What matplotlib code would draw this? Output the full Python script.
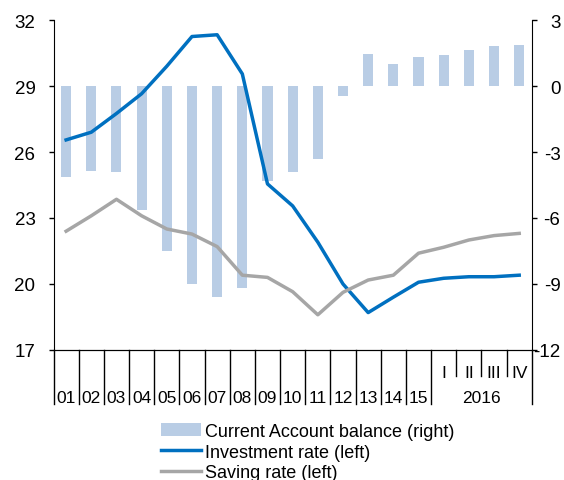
import numpy as np
import matplotlib.pyplot as plt
from matplotlib.patches import Patch
from matplotlib.lines import Line2D

plt.rcParams['font.family'] = ['Liberation Sans', 'DejaVu Sans']
plt.rcParams['axes.unicode_minus'] = False

years = ['01', '02', '03', '04', '05', '06', '07', '08', '09', '10',
         '11', '12', '13', '14', '15']
quarters = ['I', 'II', 'III', 'IV']
year_2016 = '2016'

current_account = [-4.15, -3.85, -3.9, -5.65, -7.5, -9.0, -9.6, -9.2, -4.3, -3.9,
                   -3.3, -0.45, 1.45, 1.0, 1.3, 1.4, 1.65, 1.8, 1.87]
investment = [26.55, 26.9, 27.75, 28.65, 29.9, 31.25, 31.33, 29.55, 24.55, 23.55,
              21.9, 20.0, 18.7, 19.4, 20.08, 20.26, 20.33, 20.33, 20.4]
saving = [22.4, 23.1, 23.85, 23.1, 22.5, 22.27, 21.7, 20.4, 20.3, 19.65,
          18.6, 19.62, 20.18, 20.4, 21.4, 21.67, 22.0, 22.2, 22.3]

bar_color = '#b9cde5'
inv_color = '#0070c0'
sav_color = '#a6a6a6'


def draw():
    fig = plt.figure(figsize=(5.64, 4.81), dpi=100)
    ax = fig.add_axes([0.0949, 0.2703, 0.848, 0.686])
    ax2 = ax.twinx()

    n = len(current_account)
    x = np.arange(n)

    ax2.bar(x, current_account, width=0.4, color=bar_color)
    ax.plot(x, investment, color=inv_color, linewidth=2.5)
    ax.plot(x, saving, color=sav_color, linewidth=2.5)

    ax.set_zorder(ax2.get_zorder() + 1)
    ax.patch.set_visible(False)

    ax.set_xlim(-0.5, n - 0.5)
    ax.set_ylim(17, 32)
    ax.set_yticks([17, 20, 23, 26, 29, 32])
    ax2.set_ylim(-12, 3)
    ax2.set_yticks([-12, -9, -6, -3, 0, 3])

    for a in (ax, ax2):
        a.spines['top'].set_visible(False)
    ax.tick_params(axis='y', labelsize=13.5, length=3.6, width=1, direction='out', pad=9.4)
    ax2.tick_params(axis='y', labelsize=13.5, length=3.6, width=1, direction='out', pad=17)
    for lab in ax2.get_yticklabels():
        lab.set_horizontalalignment('right')
    ax.tick_params(axis='x', bottom=False, labelbottom=False)
    ax2.spines['left'].set_visible(False)
    ax.spines['right'].set_visible(False)

    # category separators below the axis
    tr = ax.get_xaxis_transform()
    for b in list(np.arange(-0.5, 15.0, 1.0)) + [n - 0.5]:
        ax.plot([b, b], [0, -0.164], color='black', linewidth=1, transform=tr, clip_on=False)
    for b in [15.5, 16.5, 17.5]:
        ax.plot([b, b], [0, -0.079], color='black', linewidth=1, transform=tr, clip_on=False)

    for i, lab in enumerate(years):
        ax.annotate(lab, (i, 0), xycoords=tr, xytext=(0, -34.3), textcoords='offset points',
                    ha='center', va='center', fontsize=12.5)
    for j, lab in enumerate(quarters):
        ax.annotate(lab, (15 + j, 0), xycoords=tr, xytext=(0, -16.3), textcoords='offset points',
                    ha='center', va='center', fontsize=12.5)
    ax.annotate(year_2016, (16.5, 0), xycoords=tr, xytext=(0, -34.3), textcoords='offset points',
                ha='center', va='center', fontsize=12.5)

    handles = [Patch(facecolor=bar_color, edgecolor='none'),
               Line2D([], [], color=inv_color, linewidth=2.5),
               Line2D([], [], color=sav_color, linewidth=2.5)]
    labels = ['Current Account balance (right)', 'Investment rate (left)', 'Saving rate (left)']
    fig.legend(handles, labels, loc='upper left', bbox_to_anchor=(0.2855, 0.1186),
               frameon=False, fontsize=13, borderpad=0, borderaxespad=0,
               handlelength=2.2, handletextpad=0.22, labelspacing=0.2)

    fig.savefig('out.png', dpi=100)


if __name__ == '__main__':
    draw()
